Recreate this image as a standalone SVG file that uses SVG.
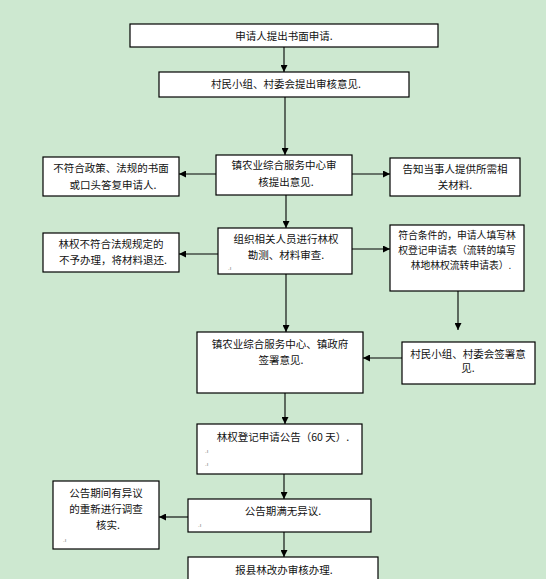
<svg xmlns="http://www.w3.org/2000/svg" width="546" height="579" viewBox="0 0 546 579">
<style>
.box{fill:#fff;stroke:#000;stroke-width:1.2}
.t{font-family:"Noto Sans CJK SC","Liberation Sans",sans-serif;font-size:10.5px;fill:#111}
.s{font-size:9.8px}
.m{font-family:"Liberation Sans",sans-serif;font-size:6px;fill:#777}
.c{fill:none;stroke:#000;stroke-width:1.1}
</style>
<defs>
<marker id="ah" viewBox="0 0 8 8" refX="8" refY="4" markerWidth="7" markerHeight="7" markerUnits="userSpaceOnUse" orient="auto">
<path d="M0,0 L8,4 L0,8 Z" fill="#000"/>
</marker>
</defs>
<rect width="546" height="579" fill="#cde8d0"/>
<g id="connectors">
<line class="c" x1="284" y1="47" x2="284" y2="72" marker-end="url(#ah)"/>
<line class="c" x1="285" y1="97" x2="285" y2="155" marker-end="url(#ah)"/>
<line class="c" x1="216" y1="174" x2="179" y2="174" marker-end="url(#ah)"/>
<line class="c" x1="352" y1="174" x2="390" y2="174" marker-end="url(#ah)"/>
<line class="c" x1="286" y1="195" x2="286" y2="228" marker-end="url(#ah)"/>
<line class="c" x1="218" y1="254" x2="179" y2="254" marker-end="url(#ah)"/>
<line class="c" x1="352" y1="249" x2="390" y2="249" marker-end="url(#ah)"/>
<line class="c" x1="286" y1="274" x2="286" y2="332" marker-end="url(#ah)"/>
<line class="c" x1="458" y1="291" x2="458" y2="330" marker-end="url(#ah)"/>
<line class="c" x1="402" y1="358" x2="363" y2="358" marker-end="url(#ah)"/>
<line class="c" x1="285" y1="393" x2="285" y2="424" marker-end="url(#ah)"/>
<line class="c" x1="284" y1="474" x2="284" y2="499" marker-end="url(#ah)"/>
<line class="c" x1="188" y1="517" x2="159" y2="517" marker-end="url(#ah)"/>
<line class="c" x1="284" y1="532" x2="284" y2="557" marker-end="url(#ah)"/>
</g>
<g id="n1"><rect class="box" x="130" y="24" width="308" height="23"/>
<text class="t" x="284" y="39.5" text-anchor="middle">申请人提出书面申请.</text></g>
<g id="n2"><rect class="box" x="159" y="72" width="250" height="25"/>
<text class="t" x="286" y="88" text-anchor="middle">村民小组、村委会提出审核意见.</text></g>
<g id="n3"><rect class="box" x="216" y="155" width="136" height="40"/>
<text class="t" x="284" y="169" text-anchor="middle">镇农业综合服务中心审</text>
<text class="t" x="286" y="186" text-anchor="middle">核提出意见.</text></g>
<g id="n4"><rect class="box" x="43" y="157" width="136" height="39"/>
<text class="t" x="111" y="172" text-anchor="middle">不符合政策、法规的书面</text>
<text class="t" x="113" y="189" text-anchor="middle">或口头答复申请人.</text></g>
<g id="n5"><rect class="box" x="390" y="158" width="130" height="38"/>
<text class="t" x="455" y="173" text-anchor="middle">告知当事人提供所需相</text>
<text class="t" x="455" y="189" text-anchor="middle">关材料.</text></g>
<g id="n6"><rect class="box" x="218" y="228" width="134" height="46"/>
<text class="t" x="286" y="243" text-anchor="middle">组织相关人员进行林权</text>
<text class="t" x="286" y="259" text-anchor="middle">勘测、材料审查.</text>
<text class="m" x="228" y="270">.ı</text></g>
<g id="n7"><rect class="box" x="43" y="233" width="136" height="39"/>
<text class="t" x="111" y="248" text-anchor="middle">林权不符合法规规定的</text>
<text class="t" x="113" y="264" text-anchor="middle">不予办理，将材料退还.</text></g>
<g id="n8"><rect class="box" x="390" y="225" width="134" height="66"/>
<text class="t s" x="457" y="239" text-anchor="middle">符合条件的，申请人填写林</text>
<text class="t s" x="457" y="254" text-anchor="middle">权登记申请表（流转的填写</text>
<text class="t s" x="461" y="269" text-anchor="middle">林地林权流转申请表）.</text></g>
<g id="n9"><rect class="box" x="197" y="332" width="166" height="61"/>
<text class="t" x="280" y="348" text-anchor="middle">镇农业综合服务中心、镇政府</text>
<text class="t" x="281" y="364" text-anchor="middle">签署意见.</text></g>
<g id="n10"><rect class="box" x="402" y="342" width="133" height="42"/>
<text class="t" x="468" y="358" text-anchor="middle">村民小组、村委会签署意</text>
<text class="t" x="468" y="372" text-anchor="middle">见.</text></g>
<g id="n11"><rect class="box" x="197" y="424" width="165" height="50"/>
<text class="t" x="283" y="441" text-anchor="middle">林权登记申请公告（60 天）.</text>
<text class="m" x="205" y="453">.ı</text>
<text class="m" x="205" y="466">.ı</text></g>
<g id="n12"><rect class="box" x="188" y="499" width="183" height="33"/>
<text class="t" x="283" y="515" text-anchor="middle">公告期满无异议.</text>
<text class="m" x="198" y="527">.ı</text></g>
<g id="n13"><rect class="box" x="53" y="481" width="106" height="68"/>
<text class="t" x="106" y="497" text-anchor="middle">公告期间有异议</text>
<text class="t" x="106" y="513" text-anchor="middle">的重新进行调查</text>
<text class="t" x="108" y="529" text-anchor="middle">核实.</text>
<text class="m" x="63" y="542">.ı</text></g>
<g id="n14"><rect class="box" x="188" y="557" width="190" height="30"/>
<text class="t" x="284" y="574" text-anchor="middle">报县林改办审核办理.</text></g>
</svg>
